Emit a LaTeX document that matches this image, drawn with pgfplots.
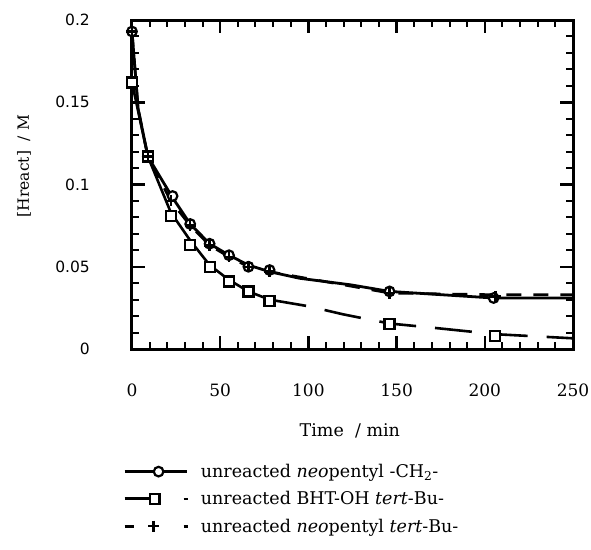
\documentclass[border=0pt]{standalone}
\usepackage{pgfplots}
\pgfplotsset{compat=1.18}
\usepackage{fontspec}
\setmainfont{DejaVu Serif}
\newfontfamily\sansf{DejaVu Sans}
\pgfplotsset{
  legcirc/.style={legend image code/.code={\draw[line width=2.6pt,solid] (0pt,0pt)--(62pt,0pt);
     \draw[mark=*, mark size=4.8pt, mark options={fill=white, draw=black, line width=2.2pt, solid}] plot coordinates {(34pt,0pt)};}},
  legsq/.style={legend image code/.code={\draw[line width=2.8pt,solid] (0pt,0.3pt)--(25pt,0.3pt);
     \draw[line width=2.6pt,solid] (59pt,0pt)--(63pt,0pt);
     \draw[mark=square*, mark size=4.8pt, mark options={fill=white, draw=black, line width=2.2pt, solid}] plot coordinates {(30pt,0pt)};}},
  legplus/.style={legend image code/.code={\draw[line width=2.6pt,solid] (0pt,0pt)--(9pt,0pt);
     \draw[line width=2.6pt,solid] (59pt,0pt)--(63pt,0pt);
     \draw[mark=+, mark size=5.5pt, mark options={draw=black, line width=2.4pt, solid}] plot coordinates {(29pt,0pt)};}},
}
\begin{document}
\begin{tikzpicture}
\path[use as bounding box] (-132pt,-200pt) rectangle (459pt,349pt);
\begin{axis}[
  at={(0pt,0pt)}, anchor=south west,
  scale only axis, width=441pt, height=329pt,
  xmin=0, xmax=250, ymin=0, ymax=0.2,
  clip=false,
  xtick={0,50,100,150,200,250},
  xticklabels={0,50,100,150,200,250},
  ytick={0,0.05,0.1,0.15,0.2},
  yticklabels={0,0.05,0.1,0.15,0.2},
  minor x tick num=4, minor y tick num=4,
  tick align=inside,
  major tick length=13pt, minor tick length=7pt,
  tick style={line width=2pt, black},
  major tick style={line width=2.5pt, black},
  axis line style={line width=3pt},
  xticklabel style={font=\fontsize{17}{17}\selectfont, anchor=center, yshift=-41pt},
  yticklabel style={font=\sansf\fontsize{15.5}{15.5}\selectfont, anchor=east, inner sep=0pt, xshift=-42pt},
  xlabel={Time \ / min},
  ylabel={[Hreact] \ / M},
  xlabel style={font=\fontsize{17.5}{18}\selectfont, at={(axis description cs:0.494,-0.249)}, anchor=center},
  ylabel style={font=\fontsize{15.5}{16}\selectfont, at={(axis description cs:-0.245,0.556)}, anchor=center},
  legend style={draw=none, fill=none, at={(axis description cs:-0.0204,-0.3435)}, anchor=north west,
    font=\fontsize{17.5}{19}\selectfont, row sep=8.5pt, inner sep=0pt,
    /tikz/every odd column/.append style={column sep=10pt}},
  legend cell align=left,
]
% square series lines
\addplot[line width=2.6pt, forget plot] coordinates {
(0,0.162) (9,0.117) (22,0.083) (33,0.066) (44,0.051) (55,0.042) (66,0.035) (78,0.030)};
\addplot[line width=2.6pt, dash pattern=on 37pt off 19pt, forget plot] coordinates {
(78,0.030) (100,0.026) (120,0.021) (146,0.0155) (170,0.013) (206,0.009) (250,0.0065)};
% circle series line
\addplot[line width=2.8pt, forget plot] coordinates {
(0,0.193) (3.5,0.146) (9,0.117) (23,0.092) (33,0.076) (44,0.064) (55,0.057) (66,0.051) (78,0.047) (95,0.043) (124,0.039) (146,0.035) (205,0.031) (250,0.031)};
% plus series line
\addplot[line width=2.6pt, dash pattern=on 15pt off 12pt, forget plot] coordinates {
(0,0.193) (3.5,0.146) (9,0.117) (22,0.090) (33,0.075) (44,0.063) (55,0.056) (66,0.050) (78,0.047) (146,0.034) (206,0.033) (250,0.033)};
% markers
\addplot[only marks, mark=*, mark size=4.8pt, mark options={fill=white, draw=black, line width=2.2pt, solid}, legcirc]
coordinates {(0,0.193) (9,0.117) (23,0.093) (33,0.076) (44,0.064) (55,0.057) (66,0.050) (78,0.048) (146,0.035) (205,0.031)};
\addplot[only marks, mark=square*, mark size=5pt, mark options={fill=white, draw=black, line width=2.2pt, solid}, legsq]
coordinates {(0,0.162) (9,0.117) (22,0.081) (33,0.063) (44,0.050) (55,0.041) (66,0.035) (78,0.029) (146,0.015) (206,0.008)};
\addplot[only marks, mark=+, mark size=5.5pt, mark options={draw=black, line width=2.4pt, solid}, legplus]
coordinates {(0,0.193) (9,0.117) (22,0.090) (33,0.075) (44,0.063) (55,0.056) (66,0.050) (78,0.047) (146,0.034) (206,0.032)};
\legend{unreacted \textit{neo}pentyl -CH\textsubscript{2}-, unreacted BHT-OH \textit{tert}-Bu-, unreacted \textit{neo}pentyl \textit{tert}-Bu-}
\end{axis}
\end{tikzpicture}
\end{document}
